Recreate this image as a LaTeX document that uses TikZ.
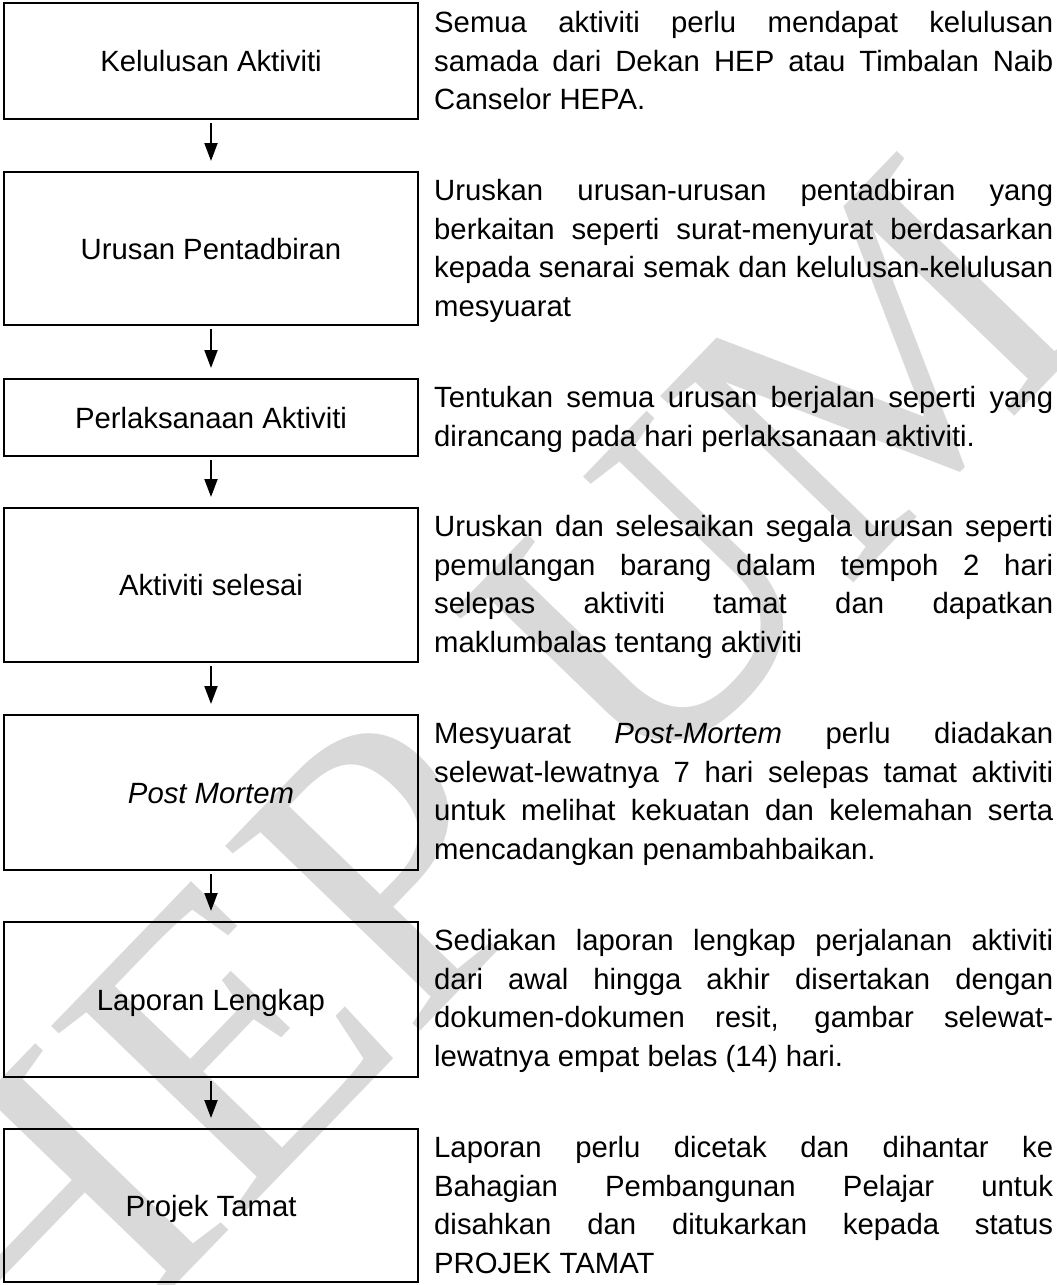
\documentclass[tikz,border=0pt]{standalone}
\usepackage{fontspec}
\setmainfont{Liberation Sans}
\newfontfamily\wmfont{Liberation Serif}
\usetikzlibrary{arrows.meta}
\definecolor{wmgray}{RGB}{217,217,217}
\hyphenpenalty=10000\relax
\exhyphenpenalty=10000\relax
\tolerance=10000\relax
\newcommand{\firststrut}{\vrule width 0pt height 25pt depth 0pt\relax}
\begin{document}
\begin{tikzpicture}[x=1pt,y=-1pt,
  flowbox/.style={draw, line width=2.4pt, minimum width=414pt, inner sep=0pt,
    font=\fontsize{29.3}{38.8}\selectfont, text height=21pt, text depth=0pt},
  desc/.style={anchor=north west, inner sep=0pt, text width=619pt, align=justify,
    font=\fontsize{29.3}{38.8}\selectfont},
  flowarrow/.style={line width=2pt, -{Triangle[length=18pt,width=13pt]}, shorten >=10pt, shorten <=3pt}]
\useasboundingbox (0,0) rectangle (1057,1285);
\fill[white] (0,0) rectangle (1057,1285);
% watermark
\node[font=\wmfont\fontsize{410}{410}\selectfont, text=wmgray, rotate=46, inner sep=0pt] (wm) at (470,790) {HEP UM};
% boxes
\node[flowbox, minimum height=115.6pt] (b1) at (211,61) {Kelulusan Aktiviti};
\node[flowbox, minimum height=152.6pt] (b2) at (211,248.5) {Urusan Pentadbiran};
\node[flowbox, minimum height=76.6pt] (b3) at (211,417.5) {Perlaksanaan Aktiviti};
\node[flowbox, minimum height=153.6pt] (b4) at (211,585) {Aktiviti selesai};
\node[flowbox, minimum height=154.6pt] (b5) at (211,792.5) {\itshape Post Mortem};
\node[flowbox, minimum height=154.6pt] (b6) at (211,999.5) {Laporan Lengkap};
\node[flowbox, minimum height=152.6pt] (b7) at (211,1205.5) {Projek Tamat};
% arrows
\draw[flowarrow] (b1.south) -- (b2.north);
\draw[flowarrow] (b2.south) -- (b3.north);
\draw[flowarrow] (b3.south) -- (b4.north);
\draw[flowarrow] (b4.south) -- (b5.north);
\draw[flowarrow] (b5.south) -- (b6.north);
\draw[flowarrow] (b6.south) -- (b7.north);
% descriptions
\node[desc] (t1) at (434,7) {\firststrut Semua aktiviti perlu mendapat kelulusan\linebreak samada dari Dekan HEP atau Timbalan Naib\linebreak Canselor HEPA.};
\node[desc] (t2) at (434,175) {\firststrut Uruskan urusan-urusan pentadbiran yang\linebreak berkaitan seperti surat-menyurat berdasarkan\linebreak kepada senarai semak dan kelulusan-kelulusan\linebreak mesyuarat};
\node[desc] (t3) at (434,382) {\firststrut Tentukan semua urusan berjalan seperti yang\linebreak dirancang pada hari perlaksanaan aktiviti.};
\node[desc] (t4) at (434,511) {\firststrut Uruskan dan selesaikan segala urusan seperti\linebreak pemulangan barang dalam tempoh 2 hari\linebreak selepas aktiviti tamat dan dapatkan\linebreak maklumbalas tentang aktiviti};
\node[desc] (t5) at (434,718) {\firststrut Mesyuarat \textit{Post-Mortem} perlu diadakan\linebreak selewat-lewatnya 7 hari selepas tamat aktiviti\linebreak untuk melihat kekuatan dan kelemahan serta\linebreak mencadangkan penambahbaikan.};
\node[desc] (t6) at (434,925) {\firststrut Sediakan laporan lengkap perjalanan aktiviti\linebreak dari awal hingga akhir disertakan dengan\linebreak dokumen-dokumen resit, gambar selewat-\linebreak lewatnya empat belas (14) hari.};
\node[desc] (t7) at (434,1132) {\firststrut Laporan perlu dicetak dan dihantar ke\linebreak Bahagian Pembangunan Pelajar untuk\linebreak disahkan dan ditukarkan kepada status\linebreak PROJEK TAMAT};
\end{tikzpicture}
\end{document}
